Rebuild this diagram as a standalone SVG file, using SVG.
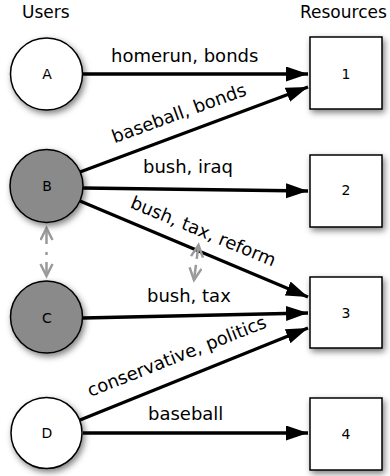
<svg xmlns="http://www.w3.org/2000/svg" width="390" height="476" viewBox="0 0 390 476">
<style>
  text { font-family: "DejaVu Sans", "Liberation Sans", sans-serif; fill: #000; }
  .hdr { font-size: 17px; }
  .lbl { font-size: 18px; }
  .nl { font-size: 14px; text-anchor: middle; }
  .user { stroke: #000; stroke-width: 1.5; filter: url(#sh); }
  .white { fill: #fff; }
  .grey { fill: #8a8a8a; }
  .res { fill: #fff; stroke: #000; stroke-width: 1.5; filter: url(#sh); }
  .edge { stroke: #000; stroke-width: 3.3; fill: none; marker-end: url(#ah); }
  .sim { stroke: #9a9a9a; stroke-width: 2.5; fill: none; marker-start: url(#oa); marker-end: url(#oa); }
</style>
<defs>
  <filter id="sh" x="-30%" y="-30%" width="170%" height="170%">
    <feDropShadow dx="2" dy="3" stdDeviation="3" flood-color="#000" flood-opacity="0.5"/>
  </filter>
  <marker id="ah" markerUnits="userSpaceOnUse" markerWidth="23" markerHeight="16" refX="22" refY="7.5" orient="auto">
    <path d="M0,0 L22,7.5 L0,15 z" fill="#000"/>
  </marker>
  <marker id="oa" markerUnits="userSpaceOnUse" markerWidth="16" markerHeight="16" refX="13" refY="7" orient="auto-start-reverse">
    <path d="M1,1 L13,7 L1,13" fill="none" stroke="#9a9a9a" stroke-width="2.5"/>
  </marker>
</defs>

<text class="hdr" x="22" y="18">Users</text>
<text class="hdr" x="300" y="18">Resources</text>

<g id="connectors">
  <line class="edge" x1="82" y1="74" x2="308" y2="74"/>
  <line class="edge" x1="80" y1="172" x2="308" y2="87"/>
  <line class="edge" x1="83" y1="188" x2="308" y2="191"/>
  <line class="edge" x1="80" y1="201" x2="308" y2="297"/>
  <line class="edge" x1="83" y1="318" x2="308" y2="313"/>
  <line class="edge" x1="80" y1="420" x2="308" y2="328"/>
  <line class="edge" x1="83" y1="433" x2="308" y2="433"/>
  <line class="sim" x1="46.5" y1="228" x2="46.5" y2="276" stroke-dasharray="16 8 3 7 14"/>
  <line class="sim" x1="198.5" y1="245" x2="194" y2="280" stroke-dasharray="14 6 16"/>

  <text class="lbl" x="111" y="62">homerun, bonds</text>
  <text class="lbl" text-anchor="middle" transform="translate(181,119) rotate(-20)">baseball, bonds</text>
  <text class="lbl" x="143" y="173">bush, iraq</text>
  <text class="lbl" text-anchor="middle" transform="translate(201,237) rotate(22.5)">bush, tax, reform</text>
  <text class="lbl" x="147" y="302">bush, tax</text>
  <text class="lbl" text-anchor="middle" transform="translate(179,362) rotate(-21.5)">conservative, politics</text>
  <text class="lbl" x="148" y="420">baseball</text>
</g>

<g id="A"><circle class="user white" cx="46.5" cy="74" r="36"/><text class="nl" x="47" y="79">A</text></g>
<g id="B"><circle class="user grey" cx="46.5" cy="186" r="36.5"/><text class="nl" x="47" y="191">B</text></g>
<g id="C"><circle class="user grey" cx="46.5" cy="317" r="36"/><text class="nl" x="47" y="322.5">C</text></g>
<g id="D"><circle class="user white" cx="46.5" cy="433" r="35.5"/><text class="nl" x="47" y="438">D</text></g>

<g id="r1"><rect class="res" x="310" y="37" width="72" height="72"/><text class="nl" x="346" y="79">1</text></g>
<g id="r2"><rect class="res" x="310" y="155" width="72" height="72"/><text class="nl" x="346" y="195">2</text></g>
<g id="r3"><rect class="res" x="310" y="277" width="72" height="71"/><text class="nl" x="346" y="318">3</text></g>
<g id="r4"><rect class="res" x="310" y="398" width="72" height="72"/><text class="nl" x="346" y="439">4</text></g>
</svg>
